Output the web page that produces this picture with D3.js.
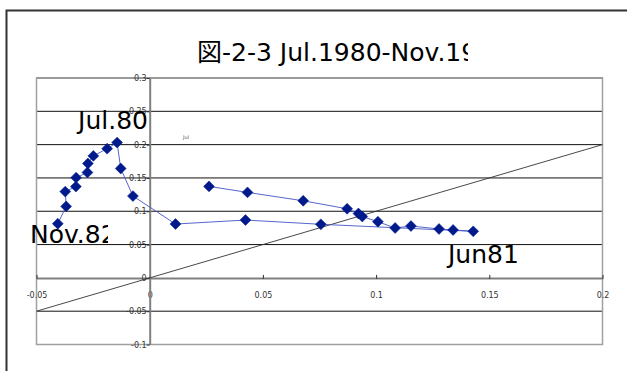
<!DOCTYPE html>
<html><head><meta charset="utf-8">
<script src="https://cdn.jsdelivr.net/npm/d3@7"></script>
<style>body{margin:0;background:#fff}svg{display:block}</style>
</head><body>
<svg id="c" width="627" height="371"></svg>
<script>
const title = "図-2-3 Jul.1980-Nov.1982";
const xTicks = [-0.05, 0, 0.05, 0.1, 0.15, 0.2];
const yTicks = [-0.1, -0.05, 0, 0.05, 0.1, 0.15, 0.2, 0.25, 0.3];
const xTickLabels = ["-0.05", "0", "0.05", "0.1", "0.15", "0.2"];
const yTickLabels = ["-0.1", "-0.05", "0", "0.05", "0.1", "0.15", "0.2", "0.25", "0.3"];
// series values, in time order
const seriesX = [0.0262, 0.0432, 0.0678, 0.0872, 0.0922, 0.0939, 0.1008, 0.1084, 0.1154, 0.1278, 0.1340, 0.1429,
  0.0756, 0.0423, 0.0114, -0.0074, -0.0128, -0.0144, -0.0188, -0.0249, -0.0273, -0.0275, -0.0325, -0.0326, -0.0373, -0.0369, -0.0406];
const seriesY = [0.1373, 0.1283, 0.1157, 0.1037, 0.0966, 0.0921, 0.0843, 0.0749, 0.0778, 0.0734, 0.0719, 0.0699,
  0.0804, 0.0868, 0.0808, 0.1228, 0.1642, 0.2031, 0.1939, 0.1831, 0.1717, 0.1582, 0.1504, 0.1370, 0.1295, 0.1073, 0.0813];
const diagX = [-0.05, 0.2];
const diagY = [-0.05, 0.2];
const labels = ["Jul.80", "Jun81", "Nov.82"];

const svg = d3.select("#c");
const font = "'DejaVu Sans', 'Noto Sans CJK JP', sans-serif";
const x = d3.scaleLinear().domain([-0.05, 0.2]).range([36.5, 602.5]);
const y = d3.scaleLinear().domain([-0.1, 0.3]).range([344.5, 78]);

// outer frame
svg.append("rect").attr("x", 6.5).attr("y", 10.5).attr("width", 640).attr("height", 400)
  .attr("fill", "none").attr("stroke", "#333").attr("stroke-width", 2);

const defs = svg.append("defs");
defs.append("clipPath").attr("id", "ct").append("rect").attr("x", 150).attr("y", 20).attr("width", 318).attr("height", 60);
defs.append("clipPath").attr("id", "cn").append("rect").attr("x", 20).attr("y", 210).attr("width", 88).attr("height", 40);

// title
svg.append("text").attr("clip-path", "url(#ct)").attr("x", 197).attr("y", 61)
  .attr("font-family", font).attr("font-size", 25).attr("fill", "#000").text(title);

// gridlines
svg.append("g").selectAll("line").data(yTicks.filter(d => d !== 0)).join("line")
  .attr("x1", x(-0.05)).attr("x2", x(0.2)).attr("y1", d => y(d)).attr("y2", d => y(d))
  .attr("stroke", "#111").attr("stroke-width", 1);

// plot border
svg.append("rect").attr("x", x(-0.05)).attr("y", y(0.3)).attr("width", x(0.2) - x(-0.05)).attr("height", y(-0.1) - y(0.3))
  .attr("fill", "none").attr("stroke", "#a0a0a0").attr("stroke-width", 1.5);

// axes
const xAxis = d3.axisBottom(x).tickValues(xTicks).tickFormat((d, i) => xTickLabels[i]).tickSizeInner(0).tickSizeOuter(0).tickPadding(14);
const gx = svg.append("g").attr("transform", `translate(0,${y(0)})`).call(xAxis);
gx.select(".domain").attr("stroke", "#808080").attr("stroke-width", 2);
gx.selectAll(".tick text").attr("font-family", font).attr("font-size", 8).attr("fill", "#333");
gx.selectAll(".tick").append("line").attr("y1", -3).attr("y2", 1).attr("stroke", "#333");

const yAxis = d3.axisLeft(y).tickValues(yTicks).tickFormat((d, i) => yTickLabels[i]).tickSizeInner(3).tickSizeOuter(0).tickPadding(0);
const gy = svg.append("g").attr("transform", `translate(${x(0)},0)`).call(yAxis);
gy.select(".domain").attr("stroke", "#808080").attr("stroke-width", 2);
gy.selectAll(".tick line").attr("stroke", "#333");
gy.selectAll(".tick text").attr("font-family", font).attr("font-size", 8).attr("fill", "#333");

// diagonal 45-degree line
svg.append("line").attr("x1", x(diagX[0])).attr("y1", y(diagY[0])).attr("x2", x(diagX[1])).attr("y2", y(diagY[1]))
  .attr("stroke", "#333").attr("stroke-width", 0.9);

// series line
const pts = seriesX.map((v, i) => [v, seriesY[i]]);
svg.append("path").datum(pts).attr("fill", "none").attr("stroke", "#4455c4").attr("stroke-width", 0.9)
  .attr("d", d3.line().x(d => x(d[0])).y(d => y(d[1])));

// markers
const sym = d3.symbol().type(d3.symbolDiamond2).size(75);
svg.append("g").selectAll("path").data(pts).join("path")
  .attr("transform", d => `translate(${x(d[0])},${y(d[1])})`)
  .attr("d", sym).attr("fill", "#001a8c").attr("stroke", "#0a2496").attr("stroke-width", 0.6);

// labels
svg.append("text").attr("x", 148).attr("y", 129).attr("text-anchor", "end")
  .attr("font-family", font).attr("font-size", 25).attr("fill", "#000").text(labels[0]);
svg.append("text").attr("x", 448).attr("y", 263)
  .attr("font-family", font).attr("font-size", 25).attr("fill", "#000").text(labels[1]);
svg.append("text").attr("clip-path", "url(#cn)").attr("x", 30).attr("y", 243)
  .attr("font-family", font).attr("font-size", 25).attr("fill", "#000").text(labels[2]);
svg.append("text").attr("x", 183).attr("y", 139)
  .attr("font-family", font).attr("font-size", 5).attr("fill", "#555").text("Jul");
</script>
</body></html>
